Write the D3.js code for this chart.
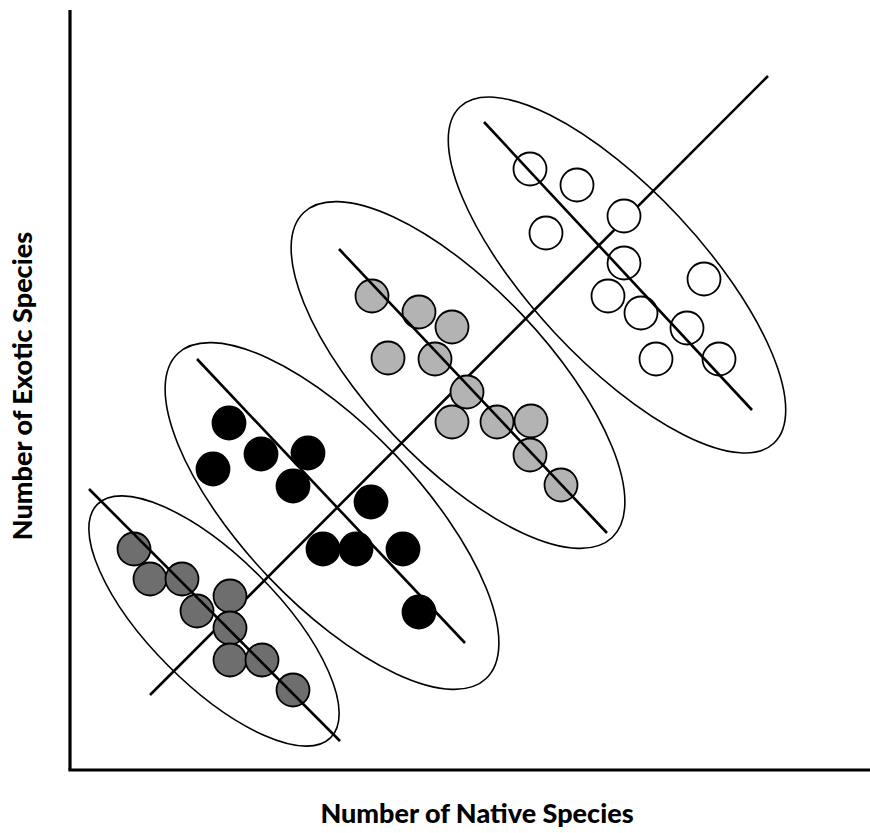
<!DOCTYPE html>
<html>
<head>
<meta charset="utf-8">
<script src="https://cdn.jsdelivr.net/npm/d3@7"></script>
<style>
  html, body { margin: 0; padding: 0; background: #fff; }
  svg { display: block; }
  .lbl { font-family: "Lato", "Open Sans", sans-serif; font-weight: 900; fill: #000; }
</style>
</head>
<body>
<svg id="chart" width="870" height="833"></svg>
<script>
// ---- Data (abstract units: native species on x, exotic species on y) ----
const groupNames = ["group1", "group2", "group3", "group4"];
const groupFills = ["#6e6e6e", "#000000", "#b3b3b3", "#ffffff"];

const group1X = [64, 80, 112, 127, 160, 160, 160, 192, 223];
const group1Y = [221, 191, 191, 159, 174, 142, 110, 110, 80];

const group2X = [159, 143, 191, 238, 223, 301, 253, 286, 333, 349];
const group2Y = [347, 301, 316, 317, 284, 268, 221, 221, 221, 158];

const group3X = [302, 349, 382, 318, 365, 397, 382, 427, 461, 460, 491];
const group3Y = [474, 458, 443, 412, 411, 378, 348, 348, 349, 315, 285];

const group4X = [460, 507, 554, 476, 554, 634, 538, 571, 617, 586, 649];
const group4Y = [601, 585, 554, 537, 507, 491, 474, 457, 442, 411, 411];

// group trend lines (negative slope within groups): [x1, y1, x2, y2]
const groupLines = [
  [19, 281, 270, 29],
  [127, 411, 395, 127],
  [269, 521, 537, 237],
  [414, 648, 682, 360]
];

// overall positive trend line
const mainLine = [80, 75, 698, 694];

// group ellipses: centre x, centre y, semi-major, semi-minor, angle (deg, downward slope)
const ellipseCX = [144, 262, 388, 547];
const ellipseCY = [149, 254, 395, 495];
const ellipseA  = [165, 224, 224, 230];
const ellipseB  = [64, 88, 88, 85];
const ellipseAng = [45, 46.5, 46.5, 47];

const xLabel = "Number of Native Species";
const yLabel = "Number of Exotic Species";

// ---- Drawing ----
const svg = d3.select("#chart");
const x = d3.scaleLinear().domain([0, 800]).range([70, 870]);
const y = d3.scaleLinear().domain([0, 760]).range([770, 10]);
const k = x(1) - x(0); // px per unit

const g = svg.append("g");

// ellipses
groupNames.forEach((n, i) => {
  g.append("ellipse")
    .attr("cx", 0).attr("cy", 0)
    .attr("rx", ellipseA[i] * k).attr("ry", ellipseB[i] * k)
    .attr("transform", `translate(${x(ellipseCX[i])},${y(ellipseCY[i])}) rotate(${ellipseAng[i]})`)
    .attr("fill", "none").attr("stroke", "#000").attr("stroke-width", 1.6);
});

// main line
g.append("line")
  .attr("x1", x(mainLine[0])).attr("y1", y(mainLine[1]))
  .attr("x2", x(mainLine[2])).attr("y2", y(mainLine[3]))
  .attr("stroke", "#000").attr("stroke-width", 2.6);

const groupsX = [group1X, group2X, group3X, group4X];
const groupsY = [group1Y, group2Y, group3Y, group4Y];

groupNames.forEach((n, i) => {
  const pts = groupsX[i].map((v, j) => [v, groupsY[i][j]]);
  g.append("g").selectAll("circle").data(pts).join("circle")
    .attr("cx", d => x(d[0])).attr("cy", d => y(d[1]))
    .attr("r", 16.5)
    .attr("fill", groupFills[i])
    .attr("stroke", "#000").attr("stroke-width", 1.8);
  const L = groupLines[i];
  g.append("line")
    .attr("x1", x(L[0])).attr("y1", y(L[1]))
    .attr("x2", x(L[2])).attr("y2", y(L[3]))
    .attr("stroke", "#000").attr("stroke-width", 2.6);
});

// axes (no ticks)
svg.append("line").attr("x1", x(0)).attr("y1", y(0)).attr("x2", x(0)).attr("y2", y(760))
  .attr("stroke", "#000").attr("stroke-width", 3.2);
svg.append("line").attr("x1", x(0) - 1.6).attr("y1", y(0)).attr("x2", x(800)).attr("y2", y(0))
  .attr("stroke", "#000").attr("stroke-width", 3.2);

svg.append("text").attr("class", "lbl")
  .attr("x", 477).attr("y", 823)
  .attr("text-anchor", "middle").attr("font-size", 27)
  .text(xLabel);

svg.append("text").attr("class", "lbl")
  .attr("transform", `translate(32,386) rotate(-90)`)
  .attr("text-anchor", "middle").attr("font-size", 27)
  .text(yLabel);
</script>
</body>
</html>
